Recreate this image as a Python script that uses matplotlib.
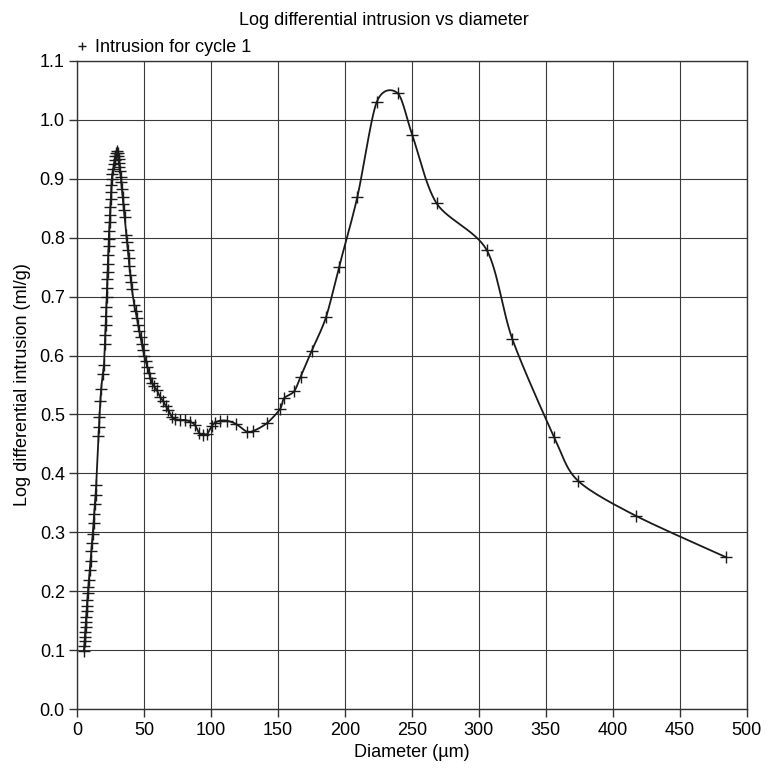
import numpy as np
import matplotlib
matplotlib.use('Agg')
import matplotlib.pyplot as plt
from matplotlib.lines import Line2D

plt.rcParams['font.family'] = ['Liberation Sans', 'DejaVu Sans']

# data
diameter = [4.95, 5.2, 5.4, 5.65, 5.9, 6.15, 6.4, 6.65, 6.9, 7.2, 7.5, 7.85, 8.25, 8.7,
            9.3, 9.9, 10.5, 11.0, 11.5, 12.1, 12.6, 13.1, 13.6, 14.1, 15.8, 16.1, 16.5,
            17.3, 17.8, 19.0, 19.9, 20.6, 20.9, 21.2, 21.4, 21.7, 22.0, 22.2, 22.4, 22.6,
            22.8, 23.1, 23.3, 23.5, 23.8, 24.1, 24.4, 24.7, 24.9, 25.2, 25.5, 25.7, 26.2,
            26.8, 27.4, 27.9, 28.3, 28.7, 29.5,
            30.3, 30.5, 30.8, 31.2, 31.5, 32.0, 32.5, 32.8, 33.3, 33.8, 34.3, 34.9, 35.3,
            36.6, 37.1, 37.7, 38.3, 38.9, 39.6, 40.2, 40.8, 42.5, 43.5, 44.5, 45.4, 46.3,
            47.2, 48.1, 49.1, 50.0, 51.2, 52.3, 53.5, 54.6, 55.6, 57.3, 59.3, 61.8, 64.3,
            66.2, 68.0, 70.5, 73.0, 76.7, 80.4, 84.2, 87.9, 91.1, 94.1, 97.1, 100.4, 102.9,
            106.6, 111.6, 118.5, 126.5, 131.5, 141.5, 151.4, 154.4, 161.9, 166.8, 175.1,
            185.8, 195.5, 209.2, 223.6, 239.3, 250.2, 268.4, 305.8, 325.0, 356.3, 373.8,
            417.3, 484.5]
intrusion = [0.099, 0.107, 0.115, 0.123, 0.131, 0.139, 0.148, 0.157, 0.166, 0.176, 0.185,
             0.197, 0.208, 0.220, 0.236, 0.252, 0.268, 0.282, 0.297, 0.316, 0.332, 0.348,
             0.364, 0.380, 0.463, 0.479, 0.495, 0.523, 0.543, 0.568, 0.584, 0.619, 0.635,
             0.651, 0.667, 0.683, 0.699, 0.715, 0.729, 0.742, 0.756, 0.771, 0.785, 0.798,
             0.812, 0.827, 0.839, 0.852, 0.865, 0.878, 0.889, 0.899, 0.908, 0.916, 0.924,
             0.932, 0.938, 0.943, 0.946,
             0.943, 0.938, 0.933, 0.927, 0.920, 0.913, 0.903, 0.894, 0.882, 0.869, 0.857,
             0.846, 0.835, 0.804, 0.792, 0.779, 0.766, 0.752, 0.737, 0.724, 0.712, 0.686,
             0.675, 0.664, 0.652, 0.642, 0.631, 0.620, 0.610, 0.600, 0.590, 0.581, 0.571,
             0.562, 0.554, 0.548, 0.5415, 0.530, 0.522, 0.514, 0.508, 0.496, 0.492, 0.4907,
             0.4907, 0.488, 0.482, 0.468, 0.465, 0.467, 0.4805, 0.486, 0.4895, 0.4895, 0.484,
             0.471, 0.472, 0.485, 0.509, 0.5275, 0.539, 0.564, 0.608, 0.665, 0.750, 0.869,
             1.0295, 1.0448, 0.974, 0.858, 0.779, 0.6275, 0.461, 0.388, 0.328, 0.258]

x_ticks = list(range(0, 501, 50))
y_ticks = [round(0.1 * i, 1) for i in range(12)]


def smooth_line(xs, ys, sx, sy, n=16, k=0.85):
    # spreadsheet-style smoothed line (Catmull-Rom Bezier) for drawing only
    p = np.column_stack([np.asarray(xs) * sx, np.asarray(ys) * sy])
    p = np.vstack([p[0], p, p[-1]])
    out = []
    t = np.linspace(0, 1, n)[:, None]
    for i in range(1, len(p) - 2):
        p0, p1, p2, p3 = p[i - 1], p[i], p[i + 1], p[i + 2]
        c1 = p1 + k * (p2 - p0) / 6
        c2 = p2 - k * (p3 - p1) / 6
        seg = ((1 - t) ** 3) * p1 + 3 * ((1 - t) ** 2) * t * c1 + 3 * (1 - t) * t ** 2 * c2 + t ** 3 * p2
        out.append(seg)
    out = np.vstack(out)
    return out[:, 0] / sx, out[:, 1] / sy


fig = plt.figure(figsize=(7.67, 7.74), dpi=100)
ax = fig.add_axes([0.1008, 0.0836, 0.8727, 0.838])

lx, ly = smooth_line(diameter, intrusion, 670 / 500, 649 / 1.1)
ax.plot(lx, ly, color='#1a1a1a', lw=1.3, zorder=3)
ax.plot(diameter, intrusion, ls='none', marker='+', ms=8, mew=1.0, color='#1a1a1a', zorder=4)

ax.set_xlim(0, 500)
ax.set_ylim(0, 1.1)
ax.set_xticks(x_ticks)
ax.set_yticks(y_ticks)
ax.set_yticklabels([f'{v:.1f}' for v in y_ticks])
ax.tick_params(direction='out', length=6, width=1, labelsize=13, color='#333333', pad=3)
ax.grid(True, color='#3a3a3a', lw=0.8)
ax.set_axisbelow(True)
for s in ax.spines.values():
    s.set_color('#333333')
    s.set_linewidth(1.0)

ax.set_xlabel('Diameter (µm)', fontsize=13, labelpad=4)
ax.set_ylabel('Log differential intrusion (ml/g)', fontsize=13, labelpad=6)
fig.text(0.5, 0.984, 'Log differential intrusion vs diameter', ha='center', va='top', fontsize=13)

h = Line2D([], [], ls='none', marker='+', ms=6, mew=1.0, color='#1a1a1a')
ax.legend([h], ['Intrusion for cycle 1'], loc='lower left', bbox_to_anchor=(-0.008, 1.0),
          frameon=False, fontsize=13, handlelength=0.6, handletextpad=0.45, borderaxespad=0.15,
          borderpad=0.1)

fig.savefig('out.png', dpi=100)
